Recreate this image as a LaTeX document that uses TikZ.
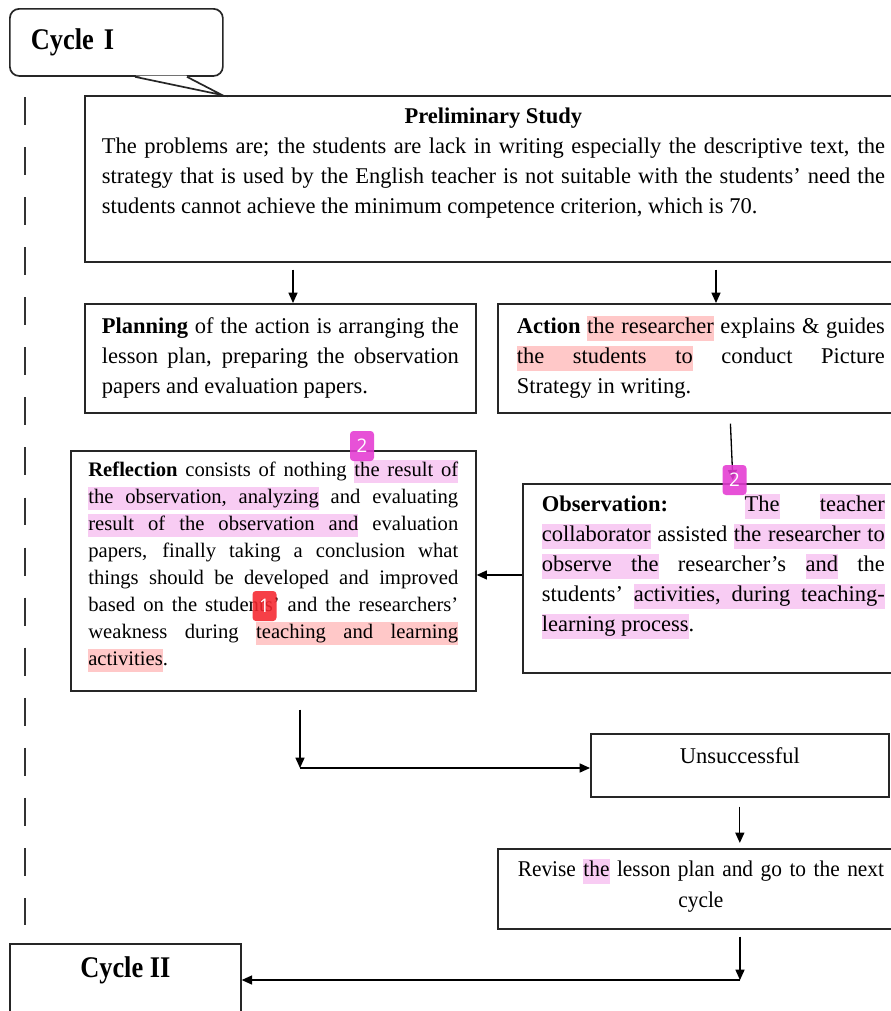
\documentclass[tikz,border=0pt]{standalone}
\usepackage{fontspec}
\setmainfont{Liberation Serif}
\setsansfont{Open Sans}
\newfontfamily\condserif{Liberation Serif}[FakeStretch=0.88]
\newfontfamily\narrowserif{Liberation Serif}[FakeStretch=0.95]
\usetikzlibrary{arrows.meta,positioning,calc}
\definecolor{hlpink}{HTML}{F8CCF3}
\definecolor{hlred}{HTML}{FFC8C8}
\definecolor{markpink}{HTML}{E43AD2}
\definecolor{markred}{HTML}{F5262E}
% highlighted runs of words (the marker boxes of the checker)
\def\hlc{hlpink}
\def\hlword#1{\begingroup\setlength{\fboxsep}{0pt}\colorbox{\hlc}{\vrule height .8em depth .3em width 0pt#1}\endgroup}
\def\hlspace{{\color{\hlc}\leaders\vrule height .8em depth .3em\hskip\fontdimen2\font plus\fontdimen3\font minus\fontdimen4\font}}
\def\hlloop#1 #2\hlend{\hlword{#1}\ifx\relax#2\relax\else\hlspace\hlloop#2\hlend\fi}
\newcommand{\hlp}[1]{\def\hlc{hlpink}\hlloop#1 \hlend}
\newcommand{\hlr}[1]{\def\hlc{hlred}\hlloop#1 \hlend}
\tikzset{
  box/.style={draw=black!85, line width=0.9pt, anchor=north west, align=justify, inner ysep=0pt, font=\fontsize{12}{16}\selectfont},
  callbox/.style={box, rounded corners=5pt, align=left, font=\condserif\fontsize{16}{18}\selectfont\bfseries},
  arrow/.style={-{Triangle[length=5.5pt,width=4.8pt]}, line width=0.7pt, draw=black},
  marker/.style={rounded corners=1.8pt, minimum width=12.8pt, minimum height=16pt, inner sep=0pt, text=white, fill opacity=0.88, text opacity=1, font=\sffamily\fontsize{10}{10}\selectfont},
  cycleline/.style={line width=0.9pt, draw=black!80, dash pattern=on 14.9pt off 11.8pt}
}
\begin{document}
\begin{tikzpicture}[x=0.5333pt, y=-0.5333pt]
  \clip (0,0) rectangle (891,1011);
  \fill[white] (0,0) rectangle (891,1011);

  % boxes
  \node[callbox, text width=91.2pt, inner xsep=11.2pt, text height=21.9pt, text depth=13.9pt] (cycone) at (9,8) {Cycle I};
  \node[box, text width=417.6pt, inner xsep=9.07pt, text height=14.9pt, text depth=73.6pt] (prelim) at (84,95)
    {{\centering\textbf{Preliminary Study}\par}
     The problems are; the students are lack in writing especially the descriptive text, the \linebreak
     strategy that is used by the English teacher is not suitable with the students' need the \linebreak
     students cannot achieve the minimum competence criterion, which is 70.};
  \node[box, text width=190.4pt, inner xsep=9.07pt, text height=16pt, text depth=42.1pt] (plan) at (84,303)
    {\textbf{Planning} of the action is arranging the \linebreak
     lesson plan, preparing the observation \linebreak
     papers and evaluation papers.};
  \node[box, text width=196.3pt, inner xsep=10.13pt, text height=16pt, text depth=42.1pt] (action) at (497,303)
    {\textbf{Action} \hlr{the researcher} explains \& guides \linebreak
     \hlr{the students to} conduct Picture \linebreak
     Strategy in writing.};
  \node[box, text width=197.3pt, inner xsep=9.33pt, text height=13.6pt, text depth=114.4pt, font=\fontsize{11}{14.4}\selectfont] (refl) at (70,450)
    {\textbf{Reflection} consists of nothing \hlp{the result of} \linebreak
     \hlp{the observation, analyzing} and evaluating \linebreak
     \hlp{result of the observation and} evaluation \linebreak
     papers, finally taking a conclusion what \linebreak
     things should be developed and improved \linebreak
     based on the students' and the researchers' \linebreak
     weakness during \hlr{teaching and learning} \linebreak
     \hlr{activities}.};
  \node[box, text width=182.9pt, inner xsep=10.13pt, text height=14.9pt, text depth=85.9pt] (obs) at (522,483)
    {\textbf{Observation:} \hlp{The} \hlp{teacher} \linebreak
     \hlp{collaborator} assisted \hlp{the researcher to} \linebreak
     \hlp{observe the} researcher's \hlp{and} the \linebreak
     students' \hlp{activities, during teaching-} \linebreak
     \hlp{learning process}.};
  \node[box, align=center, minimum width=158.9pt, text height=15.6pt, text depth=18pt] (unsucc) at (590,733) {Unsuccessful};
  \node[box, align=center, text width=197pt, inner xsep=9.8pt, text height=14.9pt, text depth=27.7pt, font=\narrowserif\fontsize{12}{16.5}\selectfont] (revise) at (497,848)
    {Revise \hlp{the} lesson plan and go to the next\\cycle};
  \node[callbox, rounded corners=0pt, align=center, minimum width=123.2pt, text height=18.1pt, text depth=42.7pt] (cyctwo) at (9,943) {Cycle II};

  % callout pointer
  \fill[white] ([xshift=67.6pt,yshift=0.6pt]cycone.south west) -- ([xshift=73.6pt]prelim.north west) -- ([xshift=94.5pt,yshift=0.6pt]cycone.south west) -- cycle;
  \draw[line width=0.9pt, draw=black!85] ([xshift=67.2pt]cycone.south west) -- ([xshift=73.6pt]prelim.north west) -- ([xshift=94.9pt]cycone.south west);

  % dashed cycle line
  \draw[cycleline] (25,97) -- (25,925);

  % arrow columns
  \coordinate (c1) at (293,0);
  \coordinate (c2) at (716,0);
  \coordinate (c3) at (730,0);
  \coordinate (c4) at (733,0);
  \coordinate (obsin) at ([yshift=1.8pt]obs.west);
  \coordinate (bendone) at (300,768);
  \coordinate (bendtwo) at (740,980);

  \draw[arrow, shorten <=3.7pt] (prelim.south -| c1) -- (plan.north -| c1);
  \draw[arrow, shorten <=3.7pt] (prelim.south -| c2) -- (action.north -| c2);
  \draw[arrow, shorten <=5.3pt, shorten >=1.5pt] (action.south -| c3) -- (obs.north -| c4);
  \draw[arrow] (obsin) -- (refl.east |- obsin);
  \draw[arrow, shorten <=9.6pt] (refl.south -| bendone) -- (bendone);
  \draw[arrow] (bendone) -- (unsucc.west |- bendone);
  \draw[arrow, shorten <=4.8pt, shorten >=2.7pt] (unsucc.south) -- (revise.north -| unsucc.south);
  \draw[arrow, shorten <=3.7pt] (revise.south -| bendtwo) -- (bendtwo);
  \draw[arrow] (bendtwo) -- (cyctwo.east |- bendtwo);

  % checker marks
  \node[marker, fill=markpink] (marktwoa) at (362,446) {2};
  \node[marker, fill=markpink] (marktwob) at (734.5,480) {2};
  \node[marker, fill=markred] (markone) at (264.5,606) {1};
\end{tikzpicture}
\end{document}
